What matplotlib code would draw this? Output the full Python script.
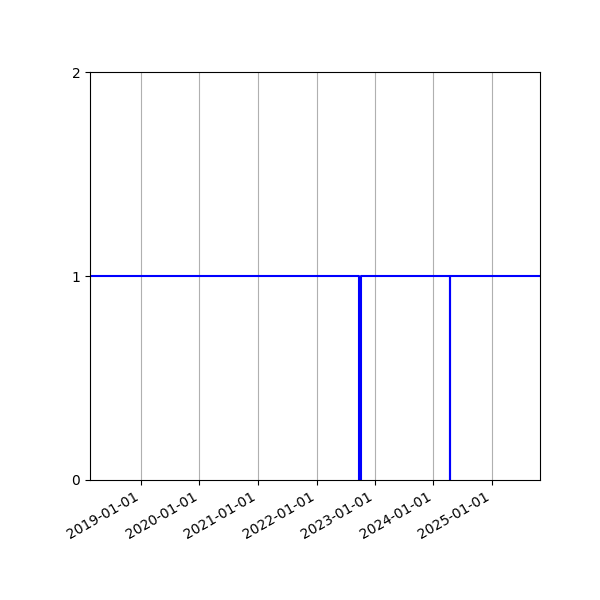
import pandas as pd
import matplotlib
matplotlib.use("Agg")
import matplotlib.pyplot as plt
import matplotlib.dates as mdates

# status series (1 = up, 0 = down), stepped
dates = pd.to_datetime([
    "2018-02-17", "2022-09-25", "2022-10-07",
    "2024-04-12", "2024-04-13", "2025-10-27",
])
status = [1, 0, 1, 0, 1, 1]

fig, ax = plt.subplots(figsize=(6, 6), dpi=100)
ax.plot(dates, status, c="blue", drawstyle="steps-post")
ax.set_xlim(dates[0], dates[-1])
ax.set_ylim(0, 2)
ax.set_yticks([0, 1, 2])
ax.xaxis.set_major_locator(mdates.YearLocator())
ax.xaxis.set_major_formatter(mdates.DateFormatter("%Y-%m-%d"))
ax.grid(True, axis="x")
fig.autofmt_xdate()
fig.subplots_adjust(left=0.15, right=0.9, top=0.88, bottom=0.2)
fig.savefig("out.png")
